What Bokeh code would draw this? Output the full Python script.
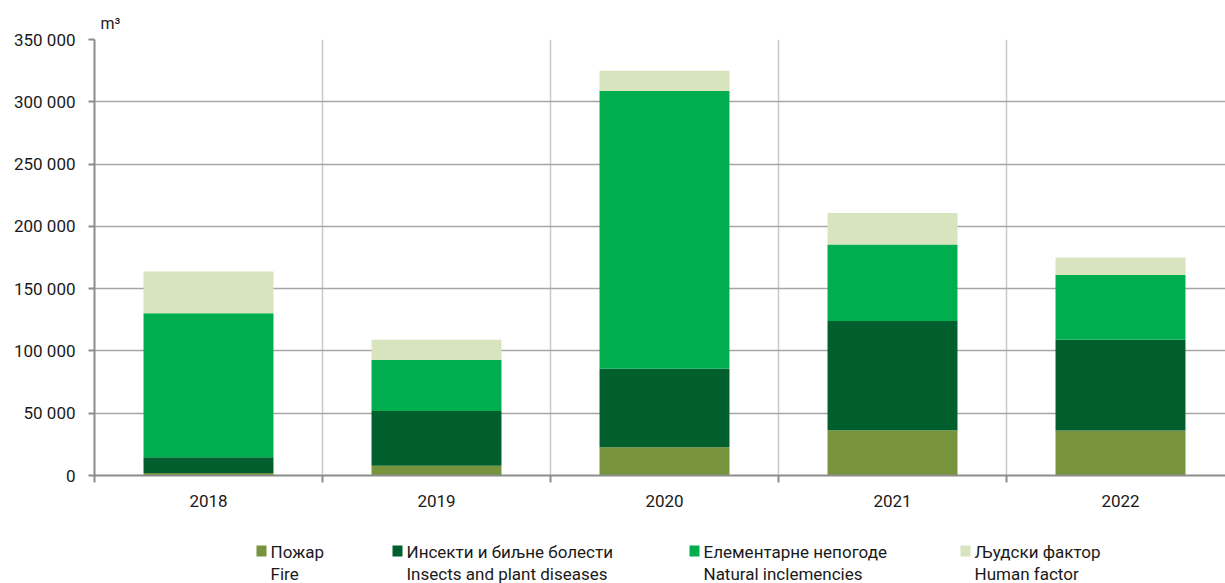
from bokeh.plotting import figure
from bokeh.models import ColumnDataSource, Range1d, FixedTicker
from bokeh.layouts import column
from bokeh.core.properties import value
from bokeh.embed import file_html
from bokeh.resources import INLINE

years = ["2018", "2019", "2020", "2021", "2022"]
fire = [2000, 7800, 22700, 36400, 36200]
insects = [12700, 43900, 63000, 87600, 72800]
natural = [115600, 41000, 222900, 61400, 52000]
human = [33500, 16300, 16400, 25400, 14000]

series_keys = ["fire", "insects", "natural", "human"]
labels_sr = ["Пожар", "Инсекти и биљне болести", "Елементарне непогоде", "Људски фактор"]
labels_en = ["Fire", "Insects and plant diseases", "Natural inclemencies", "Human factor"]
colors = ["#77933C", "#005F2D", "#00AE4F", "#D7E4BD"]

y_ticks = [0, 50000, 100000, 150000, 200000, 250000, 300000, 350000]
y_tick_labels = ["0", "50 000", "100 000", "150 000", "200 000", "250 000", "300 000", "350 000"]

FONT = "Roboto"

x = list(range(len(years)))
src = ColumnDataSource(dict(x=x, fire=fire, insects=insects, natural=natural, human=human))

W = 1225
H1, H2 = 522, 61
LEFT, TOP, BOTTOM = 94, 39, 47
p = figure(width=W, height=H1, output_backend="svg", toolbar_location=None,
           x_range=Range1d(-0.5, -0.5 + (W - LEFT) / 228), y_range=Range1d(0, 350000),
           min_border_left=LEFT, min_border_right=0, min_border_top=TOP, min_border_bottom=BOTTOM)
p.outline_line_color = None

rs = p.vbar_stack(series_keys, x="x", width=0.57, color=colors, source=src, line_color=None)

p.xaxis.ticker = FixedTicker(ticks=x, minor_ticks=[-0.5, 0.5, 1.5, 2.5, 3.5, 4.5])
p.xaxis.major_label_overrides = {i: y for i, y in enumerate(years)}
p.xaxis.major_tick_line_color = None
p.xaxis.minor_tick_in = 0
p.xaxis.minor_tick_out = 7
p.xaxis.minor_tick_line_color = "#8c8c8c"
p.xaxis.minor_tick_line_width = 2
p.xaxis.axis_line_color = "#8c8c8c"
p.xaxis.axis_line_width = 2
p.xaxis.major_label_text_font = FONT
p.xaxis.major_label_text_font_size = "17px"
p.xaxis.major_label_text_color = "#1a1a1a"
p.xaxis.major_label_standoff = 12

p.yaxis.ticker = FixedTicker(ticks=y_ticks)
p.yaxis.major_label_overrides = {t: l for t, l in zip(y_ticks, y_tick_labels)}
p.yaxis.minor_tick_line_color = None
p.yaxis.major_tick_in = 0
p.yaxis.major_tick_out = 6
p.yaxis.major_tick_line_color = "#8c8c8c"
p.yaxis.major_tick_line_width = 2
p.yaxis.axis_line_color = "#8c8c8c"
p.yaxis.axis_line_width = 2
p.yaxis.major_label_text_font = FONT
p.yaxis.major_label_text_font_size = "17px"
p.yaxis.major_label_text_color = "#1a1a1a"
p.yaxis.major_label_standoff = 13

p.ygrid.grid_line_color = "#a6a6a6"
p.ygrid.grid_line_width = 1.5
p.xgrid.grid_line_color = None
p.xgrid.minor_grid_line_color = "#c8c8c8"
p.xgrid.minor_grid_line_width = 1.5

p.title.text = "m³"
p.title.text_font = FONT
p.title.text_font_size = "16px"
p.title.text_font_style = "normal"
p.title.text_color = "#1a1a1a"
p.title.offset = 6
p.title.standoff = 13

# legend panel below the chart; its frame is aligned with the chart frame (x = page pixels)
leg = figure(width=W, height=H2, output_backend="svg", toolbar_location=None,
             x_range=Range1d(LEFT, W), y_range=Range1d(0, H2),
             min_border_left=LEFT, min_border_right=0, min_border_top=0, min_border_bottom=0,
             outline_line_color=None)
leg.axis.visible = False
leg.grid.visible = False
leg_x = [256, 392, 689, 960]
leg_src = ColumnDataSource(dict(
    sq_x=[lx + 5 for lx in leg_x], sq_y=[32.5] * 4, color=colors,
    tx=[lx + 14 for lx in leg_x], t1=labels_sr, t2=labels_en,
    y1=[32] * 4, y2=[10] * 4))
leg.rect(x="sq_x", y="sq_y", width=10, height=11, fill_color="color", line_color=None, source=leg_src)
leg.text(x="tx", y="y1", text="t1", source=leg_src, text_font=value(FONT), text_font_size="17px",
         text_color="#1a1a1a", text_baseline="middle", text_align="left")
leg.text(x="tx", y="y2", text="t2", source=leg_src, text_font=value(FONT), text_font_size="17px",
         text_color="#1a1a1a", text_baseline="middle", text_align="left")

layout = column(p, leg, spacing=0)
open("out.html", "w").write(file_html(layout, INLINE))
